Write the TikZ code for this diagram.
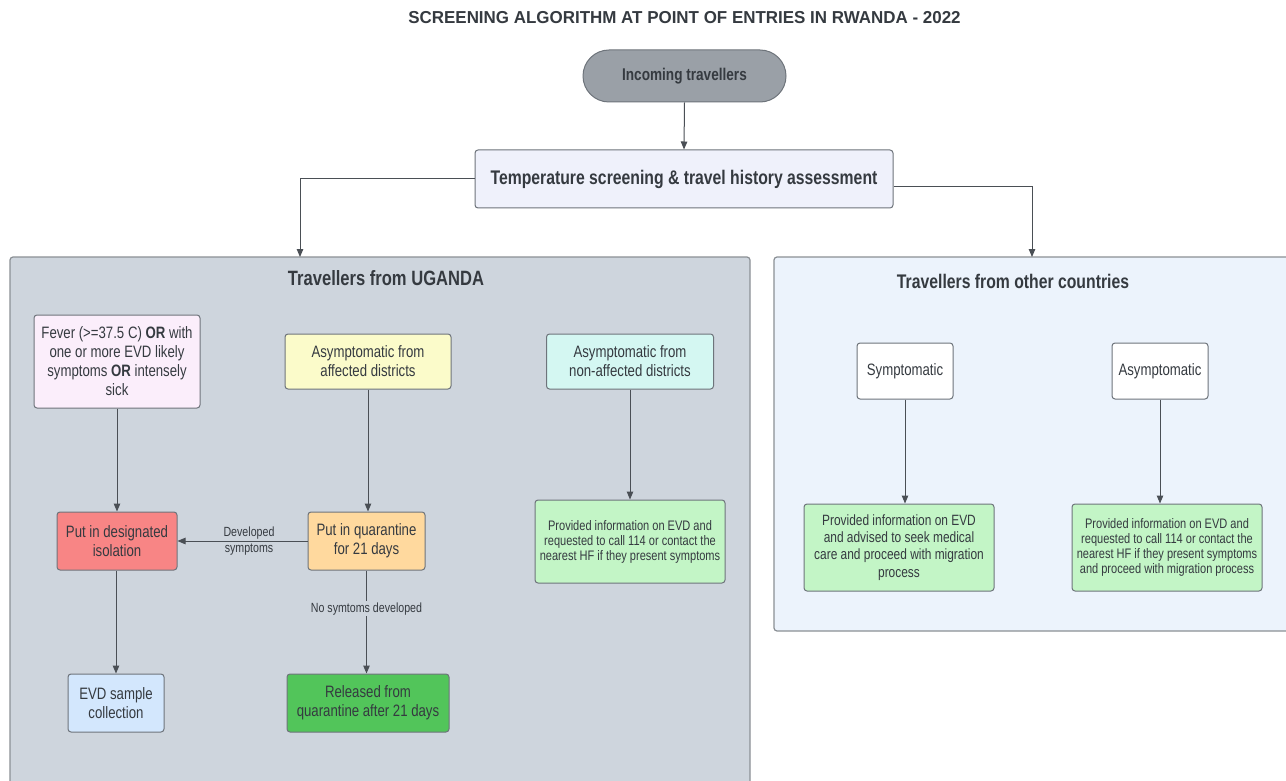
\documentclass[tikz,border=0pt]{standalone}
\usepackage{fontspec}
\setmainfont[FakeStretch=0.8]{Liberation Sans}
\newfontfamily\titlefont[FakeStretch=0.98]{Liberation Sans}
\usetikzlibrary{arrows.meta}
\definecolor{txt}{HTML}{353A40}
\definecolor{bordc}{HTML}{6E747B}
\definecolor{linec}{HTML}{4A4F55}
\definecolor{incf}{HTML}{9AA0A7}
\definecolor{tempf}{HTML}{EFF1FB}
\definecolor{ugf}{HTML}{CED5DD}
\definecolor{otf}{HTML}{ECF3FC}
\definecolor{feverf}{HTML}{FBEEFB}
\definecolor{yelf}{HTML}{FBFBCA}
\definecolor{cyanf}{HTML}{D4F7F2}
\definecolor{redf}{HTML}{F88585}
\definecolor{orangef}{HTML}{FFD99E}
\definecolor{bluef}{HTML}{D3E7FD}
\definecolor{dgreenf}{HTML}{52C55A}
\definecolor{lgreenf}{HTML}{C3F5C6}
\tikzset{
  box/.style={draw=bordc, line width=1pt, rounded corners=3pt, align=center,
    text=txt, inner sep=0pt, font=\fontsize{16.5}{19}\selectfont},
  smallbox/.style={box, font=\fontsize{13.8}{15}\selectfont},
  midbox/.style={box, font=\fontsize{14.9}{17.2}\selectfont},
  container/.style={draw=bordc!80, line width=1.2pt, rounded corners=3pt, inner sep=0pt},
  ttl/.style={text=txt, font=\bfseries\fontsize{20}{22}\selectfont, inner sep=0pt},
  arr/.style={draw=linec, line width=1pt, -{Triangle[length=8pt,width=6.5pt]}},
  lbl/.style={text=txt, font=\fontsize{13.3}{15.7}\selectfont, align=center, inner sep=1pt}
}
\begin{document}
\begin{tikzpicture}[x=1pt,y=-1pt]
\useasboundingbox (0,0) rectangle (1286,781);
\clip (0,0) rectangle (1286,781);
\fill[white] (0,0) rectangle (1286,781);

% title
\node[ttl, font=\titlefont\bfseries\fontsize{17.3}{20}\selectfont] (title) at (684.5,18) {SCREENING ALGORITHM AT POINT OF ENTRIES IN RWANDA - 2022};

% top
\node[box, fill=incf, rounded corners=26pt, minimum width=203, minimum height=52,
  font=\bfseries\fontsize{17}{19}\selectfont] (inc) at (684.5,76) {Incoming travellers};
\node[box, fill=tempf, minimum width=418, minimum height=58,
  font=\bfseries\fontsize{19.7}{22}\selectfont] (temp) at (684,179) {Temperature screening \& travel history assessment};

% containers
\node[container, fill=ugf, minimum width=740, minimum height=543] (ug) at (380,528.5) {};
\node[container, fill=otf, minimum width=522, minimum height=374] (ot) at (1035,444) {};
\node[ttl, font=\bfseries\fontsize{20.7}{22}\selectfont] (ugt) at (386,278) {Travellers from UGANDA};
\node[ttl, font=\bfseries\fontsize{19.7}{22}\selectfont] (ott) at (1013,281) {Travellers from other countries};

\coordinate (ugin) at (300,257);
\coordinate (otin) at (1032,257);
\draw[arr] (inc.south) -- (temp.north);
\draw[arr] (temp.west) -| (ugin);
\draw[arr] ([yshift=-8pt]temp.east) -| (otin);

% Uganda nodes
\node[box, fill=feverf, minimum width=166, minimum height=93] (fever) at (117,361.5)
  {Fever (>=37.5 C) \textbf{OR} with\\one or more EVD likely\\symptoms \textbf{OR} intensely\\sick};
\node[box, fill=yelf, minimum width=166, minimum height=55] (aff) at (368,361.5)
  {Asymptomatic from\\affected districts};
\node[box, fill=cyanf, minimum width=167, minimum height=55] (naff) at (630,361.5)
  {Asymptomatic from\\non-affected districts};
\node[box, fill=redf, minimum width=120, minimum height=58] (iso) at (117,541)
  {Put in designated\\isolation};
\node[box, fill=orangef, minimum width=117, minimum height=58] (quar) at (366.5,541)
  {Put in quarantine\\for 21 days};
\node[box, fill=bluef, minimum width=96, minimum height=58] (evd) at (116,703)
  {EVD sample\\collection};
\node[box, fill=dgreenf, minimum width=162, minimum height=58] (rel) at (368,703)
  {Released from\\quarantine after 21 days};
\node[smallbox, fill=lgreenf, minimum width=190, minimum height=83] (info1) at (630,541.5)
  {Provided information on EVD and\\requested to call 114 or contact the\\nearest HF if they present symptoms};

\draw[arr] (fever.south) -- (iso.north);
\draw[arr] (aff.south) -- (aff.south |- quar.north);
\draw[arr] (naff.south) -- (info1.north);
\draw[arr] (quar.west) -- (iso.east) node[lbl, pos=0.45] {Developed\\symptoms};
\draw[arr] (iso.south -| evd.north) -- (evd.north);
\draw[arr] (quar.south) -- (quar.south |- rel.north) node[lbl, pos=0.37, fill=ugf] {No symtoms developed};

% Other countries nodes
\node[box, fill=white, minimum width=96, minimum height=56] (sym) at (905,371) {Symptomatic};
\node[box, fill=white, minimum width=96, minimum height=56] (asym) at (1160,371) {Asymptomatic};
\node[midbox, fill=lgreenf, minimum width=190, minimum height=87] (info2) at (899,547.5)
  {Provided information on EVD\\and advised to seek medical\\care and proceed with migration\\process};
\node[smallbox, fill=lgreenf, minimum width=190, minimum height=87] (info3) at (1167,547.5)
  {Provided information on EVD and\\requested to call 114 or contact the\\nearest HF if they present symptoms\\and proceed with migration process};

\draw[arr] (sym.south) -- (sym.south |- info2.north);
\draw[arr] (asym.south) -- (asym.south |- info3.north);
\end{tikzpicture}
\end{document}
